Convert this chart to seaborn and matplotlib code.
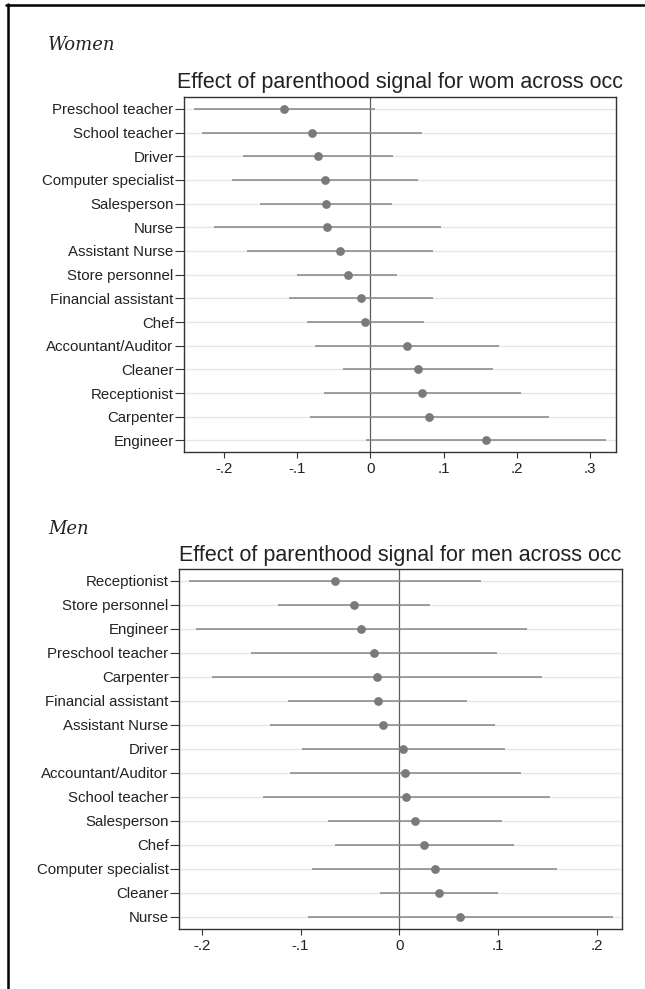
import numpy as np
import pandas as pd
import matplotlib
matplotlib.use("Agg")
import matplotlib.pyplot as plt
from matplotlib.lines import Line2D
import seaborn as sns

# Point estimates and 95% confidence bounds, women
women_occ = ["Preschool teacher", "School teacher", "Driver", "Computer specialist",
             "Salesperson", "Nurse", "Assistant Nurse", "Store personnel",
             "Financial assistant", "Chef", "Accountant/Auditor", "Cleaner",
             "Receptionist", "Carpenter", "Engineer"]
women_est = [-0.118, -0.080, -0.072, -0.062, -0.060, -0.059, -0.042, -0.031,
             -0.013, -0.007, 0.050, 0.065, 0.071, 0.080, 0.158]
women_lo = [-0.241, -0.230, -0.174, -0.189, -0.151, -0.214, -0.168, -0.100,
            -0.111, -0.087, -0.075, -0.037, -0.064, -0.083, -0.006]
women_hi = [0.006, 0.071, 0.031, 0.065, 0.030, 0.096, 0.085, 0.037,
            0.086, 0.073, 0.175, 0.167, 0.206, 0.244, 0.322]
women_ticks = [-0.2, -0.1, 0.0, 0.1, 0.2, 0.3]
women_ticklabels = ["-.2", "-.1", "0", ".1", ".2", ".3"]

# Point estimates and 95% confidence bounds, men
men_occ = ["Receptionist", "Store personnel", "Engineer", "Preschool teacher",
           "Carpenter", "Financial assistant", "Assistant Nurse", "Driver",
           "Accountant/Auditor", "School teacher", "Salesperson", "Chef",
           "Computer specialist", "Cleaner", "Nurse"]
men_est = [-0.065, -0.046, -0.039, -0.026, -0.023, -0.022, -0.017, 0.004,
           0.006, 0.007, 0.016, 0.025, 0.036, 0.040, 0.061]
men_lo = [-0.213, -0.123, -0.206, -0.150, -0.190, -0.113, -0.131, -0.099,
          -0.111, -0.138, -0.072, -0.065, -0.088, -0.020, -0.092]
men_hi = [0.083, 0.031, 0.129, 0.099, 0.144, 0.068, 0.097, 0.107,
          0.123, 0.152, 0.104, 0.116, 0.160, 0.100, 0.216]
men_ticks = [-0.2, -0.1, 0.0, 0.1, 0.2]
men_ticklabels = ["-.2", "-.1", "0", ".1", ".2"]

W, H = 645, 989
sns.set_theme(style="ticks")
plt.rcParams["font.family"] = ["Liberation Sans", "DejaVu Sans"]

TEXT = "#222222"
SPINE = "#333333"
GRID = "#e6e6e6"
ZERO = "#5a5a5a"
CI = "#8a8a8a"
PT = "#7a7a7a"

fig = plt.figure(figsize=(W / 100, H / 100), dpi=100)
fig.patch.set_facecolor("white")


def px_axes(left, right, top, bottom):
    return fig.add_axes([left / W, 1 - bottom / H, (right - left) / W, (bottom - top) / H])


def draw_panel(ax, occ, est, lo, hi, ticks, ticklabels, xlim):
    df = pd.DataFrame({"occupation": occ, "estimate": est, "lower": lo, "upper": hi})
    sns.scatterplot(data=df, x="estimate", y="occupation", color=PT, s=40,
                    linewidth=0, zorder=4, ax=ax, legend=False)
    ax.hlines(df["occupation"], df["lower"], df["upper"], color=CI, lw=1.15, zorder=3)
    ax.axvline(0, color=ZERO, lw=0.9, zorder=2)
    ax.yaxis.grid(True, color=GRID, lw=1.0, zorder=0)
    ax.set_axisbelow(True)
    ax.set_ylim(len(df) - 0.5, -0.5)
    ax.set_xlim(*xlim)
    ax.set_xticks(ticks)
    ax.set_xticklabels(ticklabels)
    ax.set_xlabel("")
    ax.set_ylabel("")
    for s in ax.spines.values():
        s.set_visible(True)
        s.set_color(SPINE)
        s.set_linewidth(1.0)
    ax.tick_params(axis="y", length=6.5, width=0.8, pad=1.0, colors=SPINE,
                   labelcolor=TEXT, labelsize=10.8)
    ax.tick_params(axis="x", length=4.3, width=0.8, pad=3.0, colors=SPINE,
                   labelcolor=TEXT, labelsize=10.8)


ax1 = px_axes(184, 615.5, 97, 452.3)
draw_panel(ax1, women_occ, women_est, women_lo, women_hi,
           women_ticks, women_ticklabels, (-0.2546, 0.3348))

ax2 = px_axes(179, 621.7, 568.5, 928.7)
draw_panel(ax2, men_occ, men_est, men_lo, men_hi,
           men_ticks, men_ticklabels, (-0.223, 0.225))

# Panel headings and plot titles
fig.text(48 / W, 1 - 50 / H, "Women", ha="left", va="baseline",
         family="DejaVu Serif", style="italic", size=13, color=TEXT)
fig.text(48 / W, 1 - 534 / H, "Men", ha="left", va="baseline",
         family="DejaVu Serif", style="italic", size=13, color=TEXT)
fig.text((184 + 615.5) / 2 / W, 1 - 88.3 / H,
         "Effect of parenthood signal for wom across occ",
         ha="center", va="baseline", size=15.5, color=TEXT)
fig.text((179 + 621.7) / 2 / W, 1 - 561 / H,
         "Effect of parenthood signal for men across occ",
         ha="center", va="baseline", size=15.5, color=TEXT)

# Page frame on the left and top edges
fig.add_artist(Line2D([7.5 / W, 7.5 / W], [0, 1 - 3.5 / H],
                      transform=fig.transFigure, color="black", lw=1.8))
fig.add_artist(Line2D([6.2 / W, 1], [1 - 4.5 / H, 1 - 4.5 / H],
                      transform=fig.transFigure, color="black", lw=1.8))

fig.savefig("out.png", dpi=100, facecolor="white")
